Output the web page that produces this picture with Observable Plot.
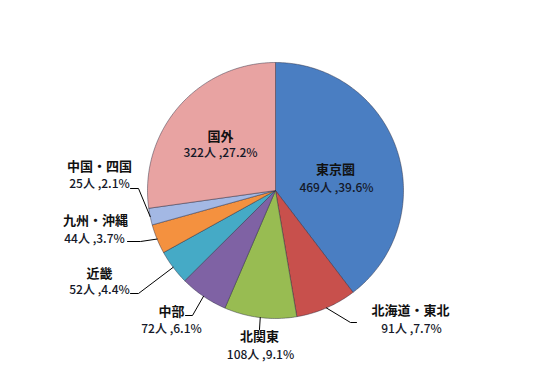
<!DOCTYPE html>
<html>
<head>
<meta charset="utf-8">
<script src="https://cdn.jsdelivr.net/npm/d3@7"></script>
<script src="https://cdn.jsdelivr.net/npm/@observablehq/plot@0.6"></script>
<style>
  html, body { margin: 0; padding: 0; background: #fff; }
  #chart svg { display: block; }
</style>
</head>
<body>
<div id="chart"></div>
<script>
// ---- data ----
const categories = ["東京圏", "北海道・東北", "北関東", "中部", "近畿", "九州・沖縄", "中国・四国", "国外"];
const counts = [469, 91, 108, 72, 52, 44, 25, 322];
const percents = [39.6, 7.7, 9.1, 6.1, 4.4, 3.7, 2.1, 27.2];
const sliceColors = ["#4A7EC2", "#C8504C", "#98BC52", "#7F62A4", "#45AAC6", "#F4913F", "#A3B8E4", "#E8A3A2"];

// ---- layout (separate from data) ----
const W = 549, H = 372;
const cx = 275, cy = 190, R = 128;
const layout = {
  "東京圏":     {name: [335, 169], value: [336, 188], leader: null},
  "北海道・東北": {name: [410, 310], value: [411, 329], leader: [[350, 322], [356, 322]]},
  "北関東":     {name: [259, 336], value: [260, 355], leader: [[259, 329]]},
  "中部":       {name: [171, 311], value: [171, 329], leader: [[192, 315], [185, 315]]},
  "近畿":       {name: [99, 273],  value: [99, 290],  leader: [[138, 293], [130, 293]]},
  "九州・沖縄":  {name: [95, 220],  value: [94, 239],  leader: [[140, 241], [127, 241]]},
  "中国・四国":  {name: [99, 166],  value: [99, 184],  leader: [[138, 188], [130, 188]]},
  "国外":       {name: [220, 136], value: [220, 153], leader: null}
};

// ---- build geometry from data ----
const rows = categories.map((c, i) => ({cat: c, count: counts[i], pct: percents[i]}));
const arcs = d3.pie().sort(null).value(d => d.count).startAngle(0).endAngle(2 * Math.PI)(rows);
const px = a => cx + R * Math.sin(a);
const py = a => cy - R * Math.cos(a);

const slicePts = [];
arcs.forEach(a => {
  const c = a.data.cat;
  slicePts.push({cat: c, x: cx, y: cy});
  const n = Math.max(2, Math.ceil((a.endAngle - a.startAngle) / (Math.PI / 180)));
  for (let k = 0; k <= n; k++) {
    const t = a.startAngle + (a.endAngle - a.startAngle) * k / n;
    slicePts.push({cat: c, x: px(t), y: py(t)});
  }
  slicePts.push({cat: c, x: cx, y: cy});
});

const leaderPts = [];
arcs.forEach(a => {
  const c = a.data.cat, L = layout[c];
  if (!L.leader) return;
  const m = (a.startAngle + a.endAngle) / 2;
  leaderPts.push({cat: c, x: px(m), y: py(m)});
  L.leader.forEach(p => leaderPts.push({cat: c, x: p[0], y: p[1]}));
});

const labels = rows.map(r => ({
  cat: r.cat,
  nx: layout[r.cat].name[0], ny: layout[r.cat].name[1],
  vx: layout[r.cat].value[0], vy: layout[r.cat].value[1],
  valueText: `${r.count}人 ,${r.pct.toFixed(1)}%`
}));

const font = "'Noto Sans CJK JP', 'Noto Sans', sans-serif";

const chart = Plot.plot({
  width: W, height: H,
  margin: 0,
  x: {domain: [0, W], range: [0, W], axis: null},
  y: {domain: [0, H], range: [0, H], axis: null},
  color: {domain: categories, range: sliceColors},
  style: {fontFamily: font, background: "#fff"},
  marks: [
    Plot.line(slicePts, {x: "x", y: "y", z: "cat", fill: "cat", stroke: "rgba(40,40,60,0.45)", strokeWidth: 1, curve: "linear"}),
    Plot.line(leaderPts, {x: "x", y: "y", z: "cat", stroke: "#000", strokeWidth: 1, curve: "linear"}),
    Plot.text(labels, {x: "nx", y: "ny", text: "cat", fontSize: 13, fontWeight: "bold", fill: "#111", fontFamily: font}),
    Plot.text(labels, {x: "vx", y: "vy", text: "valueText", fontSize: 12, fontWeight: 500, fill: "#141828", fontFamily: font})
  ]
});
document.getElementById("chart").appendChild(chart);
</script>
</body>
</html>
